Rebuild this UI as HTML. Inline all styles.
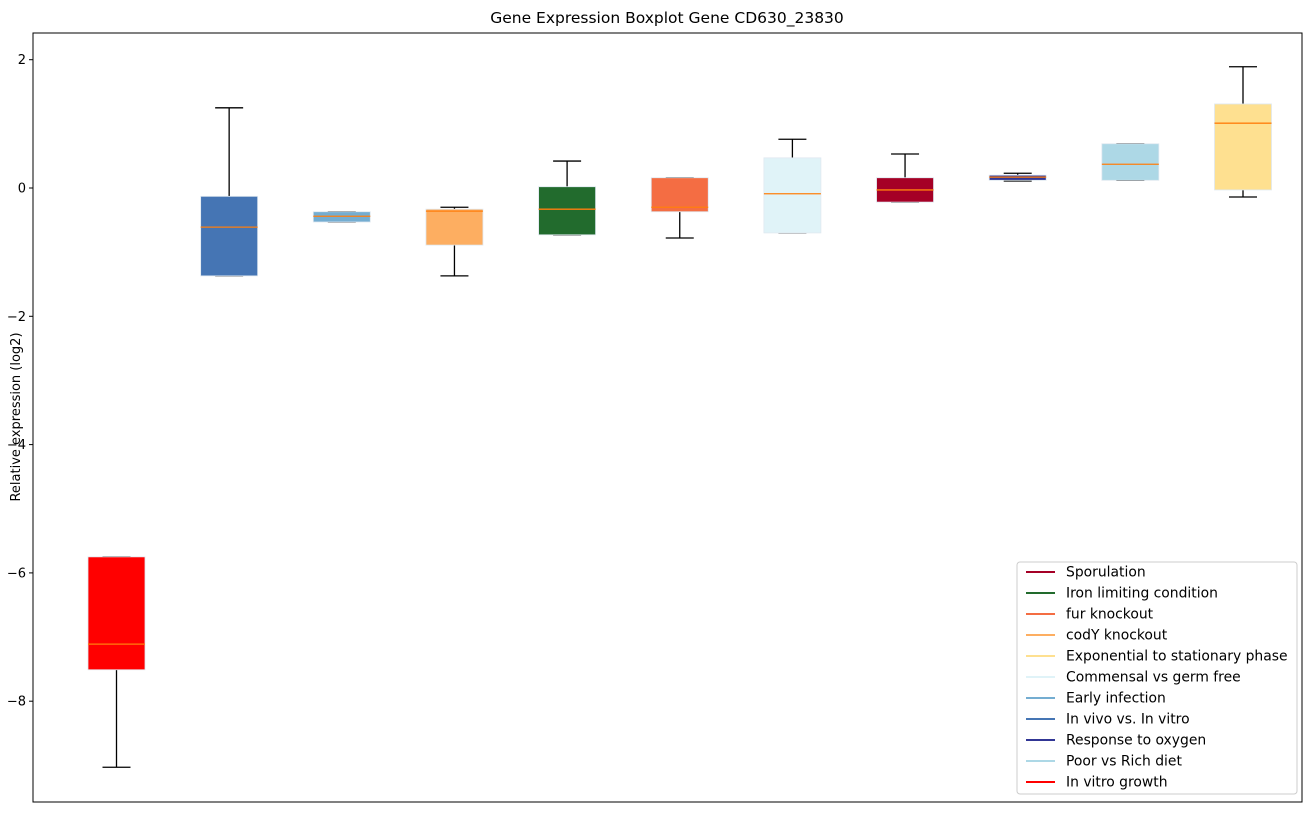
<!DOCTYPE html>
<html><head><meta charset="utf-8"><style>
body{margin:0;background:#fff;}
svg text{font-family:"DejaVu Sans","Liberation Sans",sans-serif;}
</style></head><body>
<svg id="chart" width="1309" height="812" xmlns="http://www.w3.org/2000/svg">
<rect width="1309" height="812" fill="#fff"/>
<text x="667" y="23" font-size="15.5" text-anchor="middle">Gene Expression Boxplot Gene CD630_23830</text>
<text transform="translate(20,417) rotate(-90)" font-size="13" text-anchor="middle">Relative expression (log2)</text>
<g id="ticks"></g>
<g id="boxes"></g>
<rect x="33" y="33" width="1269" height="769" fill="none" stroke="#000" stroke-width="1"/>
<g id="legend"></g>
</svg>
<script>
const yTicks = [2, 0, -2, -4, -6, -8];
const colors = ["#ff0000","#4575b4","#74add1","#fdae61","#226b2d","#f46d43","#e0f3f8","#a50026","#313695","#add8e6","#fee090"];
const whisLo = [-9.03,-1.37,-0.53,-1.37,-0.73,-0.78,-0.70,-0.22,0.11,0.12,-0.14];
const q1 =     [-7.51,-1.37,-0.53,-0.89,-0.73,-0.37,-0.70,-0.22,0.12,0.12,-0.03];
const median = [-7.11,-0.61,-0.44,-0.36,-0.33,-0.30,-0.09,-0.03,0.17,0.37,1.01];
const q3 =     [-5.75,-0.13,-0.37,-0.33,0.02,0.16,0.47,0.16,0.20,0.69,1.31];
const whisHi = [-5.75,1.25,-0.37,-0.30,0.42,0.16,0.76,0.53,0.23,0.69,1.89];
const legendLabels = ["Sporulation","Iron limiting condition","fur knockout","codY knockout","Exponential to stationary phase","Commensal vs germ free","Early infection","In vivo vs. In vitro","Response to oxygen","Poor vs Rich diet","In vitro growth"];
const legendColors = ["#a50026","#226b2d","#f46d43","#fdae61","#fee090","#e0f3f8","#74add1","#4575b4","#313695","#add8e6","#ff0000"];

const NS="http://www.w3.org/2000/svg";
const Y = v => 188 - v*64.15;
const X = i => 116.5 + i*112.65;
function mk(tag, attrs, parent){const e=document.createElementNS(NS,tag);for(const k in attrs)e.setAttribute(k,attrs[k]);parent.appendChild(e);return e;}
const tg=document.getElementById('ticks');
yTicks.forEach(t=>{
  const l=mk('line',{x1:29,x2:33,y1:Y(t),y2:Y(t),stroke:'#000'},tg);
  
  
  const tx=mk('text',{x:26,y:Y(t)+4.5,'font-size':13,'text-anchor':'end'},tg);
  tx.textContent=(t<0?'\u2212'+(-t):t);
  
  
});
const bg=document.getElementById('boxes');
median.forEach((m,i)=>{
  const g=mk('g',{},bg);
  
  
  const cx=X(i), hw=28.5, cw=14;
  mk('line',{x1:cx,x2:cx,y1:Y(q3[i]),y2:Y(whisHi[i]),stroke:'#000','stroke-width':1.3},g);
  mk('line',{x1:cx,x2:cx,y1:Y(q1[i]),y2:Y(whisLo[i]),stroke:'#000','stroke-width':1.3},g);
  mk('line',{x1:cx-cw,x2:cx+cw,y1:Y(whisHi[i]),y2:Y(whisHi[i]),stroke:'#000','stroke-width':1.3},g);
  mk('line',{x1:cx-cw,x2:cx+cw,y1:Y(whisLo[i]),y2:Y(whisLo[i]),stroke:'#000','stroke-width':1.3},g);
  const top=Y(q3[i]), bot=Y(q1[i]);
  mk('rect',{x:cx-hw,y:top,width:hw*2,height:Math.max(bot-top,1),fill:colors[i],stroke:'#dfe8f0','stroke-width':0.8},g);
  mk('line',{x1:cx-hw,x2:cx+hw,y1:Y(m),y2:Y(m),stroke:'#ff7f0e','stroke-width':1.3},g);
});
const lg=document.getElementById('legend');
mk('rect',{x:1017,y:562,width:280,height:232,rx:3,fill:'#fff',stroke:'#ccc'},lg);
legendLabels.forEach((s,i)=>{
  const y=572+i*21;
  const l=mk('line',{x1:1026,x2:1055,y1:y,y2:y,stroke:legendColors[i],'stroke-width':2},lg);
  
  
  const t=mk('text',{x:1066,y:y+4.5,'font-size':13.9},lg);
  t.textContent=s;
  
  
});
</script>
</body></html>
